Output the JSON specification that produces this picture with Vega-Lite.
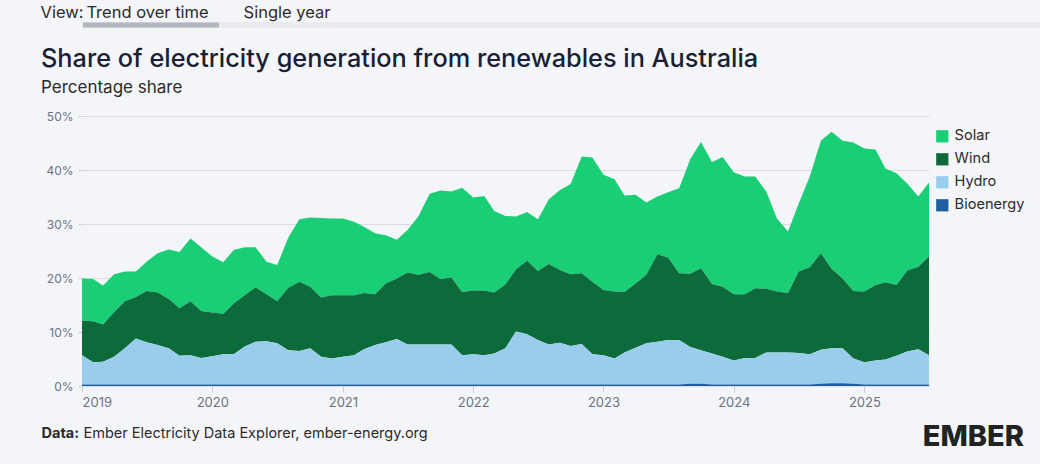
{
  "$schema": "https://vega.github.io/schema/vega-lite/v6.json",
  "background": "#f4f5f9",
  "padding": {"left": 40, "top": 4, "right": 0, "bottom": 0},
  "config": {
    "font": "Inter",
    "view": {"stroke": null}
  },
  "spacing": 18,
  "resolve": {"scale": {"color": "independent"}, "legend": {"color": "independent"}},
  "vconcat": [
    {
      "width": 958,
      "height": 6,
      "view": {"fill": "#e8eaf0", "stroke": null},
      "resolve": {"scale": {"x": "independent"}},
      "data": {"values": [{"tab": "View:"}, {"tab": "Trend over time"}, {"tab": "Single year"}]},
      "layer": [
        {
          "transform": [{"filter": "datum.tab === 'Trend over time'"}],
          "mark": {"type": "tick", "orient": "horizontal", "size": 136, "thickness": 5, "color": "#9ca0a8", "xOffset": 69},
          "encoding": {
            "x": {"field": "tab", "type": "nominal", "scale": {"type": "point", "domain": ["Trend over time", "Single year"], "range": [0, 139.5], "padding": 0}, "axis": null}
          }
        },
        {
          "transform": [{"filter": "datum.tab === 'View:'"}],
          "mark": {"type": "text", "fontSize": 16.5, "color": "#2b2b2b", "baseline": "alphabetic", "dy": -7.2, "xOffset": -20},
          "encoding": {
            "x": {"field": "tab", "type": "nominal", "scale": {"type": "point", "domain": ["View:"], "range": [0, 1], "padding": 0, "align": 0}, "axis": null},
            "text": {"field": "tab"}
          }
        },
        {
          "transform": [{"filter": "datum.tab !== 'View:'"}],
          "mark": {"type": "text", "fontSize": 16.5, "color": "#2b2b2b", "baseline": "alphabetic", "dy": -7.2, "xOffset": 65.5},
          "encoding": {
            "x": {"field": "tab", "type": "nominal", "scale": {"type": "point", "domain": ["Trend over time", "Single year"], "range": [0, 139.5], "padding": 0}, "axis": null},
            "text": {"field": "tab"},
            "fontWeight": {"condition": {"test": "datum.tab === 'Trend over time'", "value": "bold"}, "value": "normal"}
          }
        }
      ]
    },
    {
      "width": 847,
      "height": 270,
      "title": {
        "text": "Share of electricity generation from renewables in Australia",
        "subtitle": "Percentage share",
        "anchor": "start",
        "fontSize": 25.3,
        "fontWeight": 500,
        "color": "#1b1f33",
        "subtitleFontSize": 17,
        "subtitleColor": "#2b2b2b",
        "subtitlePadding": 8,
        "offset": 14
      },
      "data": {"values": [
        {"m":"2019-01","s":"Solar","v":7.8},{"m":"2019-01","s":"Wind","v":6.4},{"m":"2019-01","s":"Hydro","v":5.4},{"m":"2019-01","s":"Bioenergy","v":0.3},
        {"m":"2019-02","s":"Solar","v":7.8},{"m":"2019-02","s":"Wind","v":7.6},{"m":"2019-02","s":"Hydro","v":4.1},{"m":"2019-02","s":"Bioenergy","v":0.3},
        {"m":"2019-03","s":"Solar","v":7.2},{"m":"2019-03","s":"Wind","v":6.9},{"m":"2019-03","s":"Hydro","v":4.2},{"m":"2019-03","s":"Bioenergy","v":0.3},
        {"m":"2019-04","s":"Solar","v":7.0},{"m":"2019-04","s":"Wind","v":8.3},{"m":"2019-04","s":"Hydro","v":5.1},{"m":"2019-04","s":"Bioenergy","v":0.3},
        {"m":"2019-05","s":"Solar","v":5.5},{"m":"2019-05","s":"Wind","v":8.7},{"m":"2019-05","s":"Hydro","v":6.7},{"m":"2019-05","s":"Bioenergy","v":0.3},
        {"m":"2019-06","s":"Solar","v":4.7},{"m":"2019-06","s":"Wind","v":7.7},{"m":"2019-06","s":"Hydro","v":8.5},{"m":"2019-06","s":"Bioenergy","v":0.3},
        {"m":"2019-07","s":"Solar","v":5.4},{"m":"2019-07","s":"Wind","v":9.5},{"m":"2019-07","s":"Hydro","v":7.8},{"m":"2019-07","s":"Bioenergy","v":0.3},
        {"m":"2019-08","s":"Solar","v":7.3},{"m":"2019-08","s":"Wind","v":9.7},{"m":"2019-08","s":"Hydro","v":7.3},{"m":"2019-08","s":"Bioenergy","v":0.3},
        {"m":"2019-09","s":"Solar","v":9.2},{"m":"2019-09","s":"Wind","v":9.1},{"m":"2019-09","s":"Hydro","v":6.7},{"m":"2019-09","s":"Bioenergy","v":0.3},
        {"m":"2019-10","s":"Solar","v":10.4},{"m":"2019-10","s":"Wind","v":8.8},{"m":"2019-10","s":"Hydro","v":5.3},{"m":"2019-10","s":"Bioenergy","v":0.3},
        {"m":"2019-11","s":"Solar","v":11.6},{"m":"2019-11","s":"Wind","v":10.0},{"m":"2019-11","s":"Hydro","v":5.4},{"m":"2019-11","s":"Bioenergy","v":0.3},
        {"m":"2019-12","s":"Solar","v":11.8},{"m":"2019-12","s":"Wind","v":8.7},{"m":"2019-12","s":"Hydro","v":4.9},{"m":"2019-12","s":"Bioenergy","v":0.3},
        {"m":"2020-01","s":"Solar","v":10.4},{"m":"2020-01","s":"Wind","v":8.1},{"m":"2020-01","s":"Hydro","v":5.2},{"m":"2020-01","s":"Bioenergy","v":0.3},
        {"m":"2020-02","s":"Solar","v":9.5},{"m":"2020-02","s":"Wind","v":7.5},{"m":"2020-02","s":"Hydro","v":5.6},{"m":"2020-02","s":"Bioenergy","v":0.3},
        {"m":"2020-03","s":"Solar","v":9.9},{"m":"2020-03","s":"Wind","v":9.4},{"m":"2020-03","s":"Hydro","v":5.6},{"m":"2020-03","s":"Bioenergy","v":0.3},
        {"m":"2020-04","s":"Solar","v":8.9},{"m":"2020-04","s":"Wind","v":9.5},{"m":"2020-04","s":"Hydro","v":7.0},{"m":"2020-04","s":"Bioenergy","v":0.3},
        {"m":"2020-05","s":"Solar","v":7.4},{"m":"2020-05","s":"Wind","v":10.1},{"m":"2020-05","s":"Hydro","v":7.9},{"m":"2020-05","s":"Bioenergy","v":0.3},
        {"m":"2020-06","s":"Solar","v":6.0},{"m":"2020-06","s":"Wind","v":8.7},{"m":"2020-06","s":"Hydro","v":8.0},{"m":"2020-06","s":"Bioenergy","v":0.3},
        {"m":"2020-07","s":"Solar","v":6.7},{"m":"2020-07","s":"Wind","v":7.8},{"m":"2020-07","s":"Hydro","v":7.6},{"m":"2020-07","s":"Bioenergy","v":0.3},
        {"m":"2020-08","s":"Solar","v":9.3},{"m":"2020-08","s":"Wind","v":11.6},{"m":"2020-08","s":"Hydro","v":6.3},{"m":"2020-08","s":"Bioenergy","v":0.3},
        {"m":"2020-09","s":"Solar","v":11.6},{"m":"2020-09","s":"Wind","v":12.8},{"m":"2020-09","s":"Hydro","v":6.2},{"m":"2020-09","s":"Bioenergy","v":0.3},
        {"m":"2020-10","s":"Solar","v":12.8},{"m":"2020-10","s":"Wind","v":11.4},{"m":"2020-10","s":"Hydro","v":6.7},{"m":"2020-10","s":"Bioenergy","v":0.3},
        {"m":"2020-11","s":"Solar","v":14.7},{"m":"2020-11","s":"Wind","v":11.0},{"m":"2020-11","s":"Hydro","v":5.1},{"m":"2020-11","s":"Bioenergy","v":0.3},
        {"m":"2020-12","s":"Solar","v":14.2},{"m":"2020-12","s":"Wind","v":11.7},{"m":"2020-12","s":"Hydro","v":4.8},{"m":"2020-12","s":"Bioenergy","v":0.3},
        {"m":"2021-01","s":"Solar","v":14.2},{"m":"2021-01","s":"Wind","v":11.4},{"m":"2021-01","s":"Hydro","v":5.1},{"m":"2021-01","s":"Bioenergy","v":0.3},
        {"m":"2021-02","s":"Solar","v":13.6},{"m":"2021-02","s":"Wind","v":11.1},{"m":"2021-02","s":"Hydro","v":5.4},{"m":"2021-02","s":"Bioenergy","v":0.3},
        {"m":"2021-03","s":"Solar","v":12.3},{"m":"2021-03","s":"Wind","v":10.4},{"m":"2021-03","s":"Hydro","v":6.5},{"m":"2021-03","s":"Bioenergy","v":0.3},
        {"m":"2021-04","s":"Solar","v":11.3},{"m":"2021-04","s":"Wind","v":9.4},{"m":"2021-04","s":"Hydro","v":7.3},{"m":"2021-04","s":"Bioenergy","v":0.3},
        {"m":"2021-05","s":"Solar","v":8.9},{"m":"2021-05","s":"Wind","v":10.9},{"m":"2021-05","s":"Hydro","v":7.8},{"m":"2021-05","s":"Bioenergy","v":0.3},
        {"m":"2021-06","s":"Solar","v":7.2},{"m":"2021-06","s":"Wind","v":11.2},{"m":"2021-06","s":"Hydro","v":8.4},{"m":"2021-06","s":"Bioenergy","v":0.3},
        {"m":"2021-07","s":"Solar","v":7.9},{"m":"2021-07","s":"Wind","v":13.3},{"m":"2021-07","s":"Hydro","v":7.4},{"m":"2021-07","s":"Bioenergy","v":0.3},
        {"m":"2021-08","s":"Solar","v":10.9},{"m":"2021-08","s":"Wind","v":12.9},{"m":"2021-08","s":"Hydro","v":7.4},{"m":"2021-08","s":"Bioenergy","v":0.3},
        {"m":"2021-09","s":"Solar","v":14.5},{"m":"2021-09","s":"Wind","v":13.4},{"m":"2021-09","s":"Hydro","v":7.4},{"m":"2021-09","s":"Bioenergy","v":0.3},
        {"m":"2021-10","s":"Solar","v":16.4},{"m":"2021-10","s":"Wind","v":12.1},{"m":"2021-10","s":"Hydro","v":7.4},{"m":"2021-10","s":"Bioenergy","v":0.3},
        {"m":"2021-11","s":"Solar","v":15.9},{"m":"2021-11","s":"Wind","v":12.4},{"m":"2021-11","s":"Hydro","v":7.4},{"m":"2021-11","s":"Bioenergy","v":0.3},
        {"m":"2021-12","s":"Solar","v":19.3},{"m":"2021-12","s":"Wind","v":11.7},{"m":"2021-12","s":"Hydro","v":5.4},{"m":"2021-12","s":"Bioenergy","v":0.3},
        {"m":"2022-01","s":"Solar","v":17.2},{"m":"2022-01","s":"Wind","v":11.8},{"m":"2022-01","s":"Hydro","v":5.6},{"m":"2022-01","s":"Bioenergy","v":0.3},
        {"m":"2022-02","s":"Solar","v":17.5},{"m":"2022-02","s":"Wind","v":12.0},{"m":"2022-02","s":"Hydro","v":5.4},{"m":"2022-02","s":"Bioenergy","v":0.3},
        {"m":"2022-03","s":"Solar","v":15.1},{"m":"2022-03","s":"Wind","v":11.3},{"m":"2022-03","s":"Hydro","v":5.7},{"m":"2022-03","s":"Bioenergy","v":0.3},
        {"m":"2022-04","s":"Solar","v":12.7},{"m":"2022-04","s":"Wind","v":11.8},{"m":"2022-04","s":"Hydro","v":6.7},{"m":"2022-04","s":"Bioenergy","v":0.3},
        {"m":"2022-05","s":"Solar","v":9.8},{"m":"2022-05","s":"Wind","v":11.5},{"m":"2022-05","s":"Hydro","v":9.8},{"m":"2022-05","s":"Bioenergy","v":0.3},
        {"m":"2022-06","s":"Solar","v":9.0},{"m":"2022-06","s":"Wind","v":13.6},{"m":"2022-06","s":"Hydro","v":9.3},{"m":"2022-06","s":"Bioenergy","v":0.3},
        {"m":"2022-07","s":"Solar","v":9.6},{"m":"2022-07","s":"Wind","v":12.8},{"m":"2022-07","s":"Hydro","v":8.2},{"m":"2022-07","s":"Bioenergy","v":0.3},
        {"m":"2022-08","s":"Solar","v":12.0},{"m":"2022-08","s":"Wind","v":14.9},{"m":"2022-08","s":"Hydro","v":7.4},{"m":"2022-08","s":"Bioenergy","v":0.3},
        {"m":"2022-09","s":"Solar","v":14.8},{"m":"2022-09","s":"Wind","v":13.5},{"m":"2022-09","s":"Hydro","v":7.7},{"m":"2022-09","s":"Bioenergy","v":0.3},
        {"m":"2022-10","s":"Solar","v":16.7},{"m":"2022-10","s":"Wind","v":13.3},{"m":"2022-10","s":"Hydro","v":7.1},{"m":"2022-10","s":"Bioenergy","v":0.3},
        {"m":"2022-11","s":"Solar","v":21.6},{"m":"2022-11","s":"Wind","v":13.1},{"m":"2022-11","s":"Hydro","v":7.5},{"m":"2022-11","s":"Bioenergy","v":0.3},
        {"m":"2022-12","s":"Solar","v":23.0},{"m":"2022-12","s":"Wind","v":13.4},{"m":"2022-12","s":"Hydro","v":5.6},{"m":"2022-12","s":"Bioenergy","v":0.3},
        {"m":"2023-01","s":"Solar","v":21.3},{"m":"2023-01","s":"Wind","v":12.1},{"m":"2023-01","s":"Hydro","v":5.4},{"m":"2023-01","s":"Bioenergy","v":0.3},
        {"m":"2023-02","s":"Solar","v":20.8},{"m":"2023-02","s":"Wind","v":12.4},{"m":"2023-02","s":"Hydro","v":4.8},{"m":"2023-02","s":"Bioenergy","v":0.3},
        {"m":"2023-03","s":"Solar","v":17.9},{"m":"2023-03","s":"Wind","v":11.2},{"m":"2023-03","s":"Hydro","v":5.9},{"m":"2023-03","s":"Bioenergy","v":0.3},
        {"m":"2023-04","s":"Solar","v":16.4},{"m":"2023-04","s":"Wind","v":11.9},{"m":"2023-04","s":"Hydro","v":6.8},{"m":"2023-04","s":"Bioenergy","v":0.3},
        {"m":"2023-05","s":"Solar","v":13.4},{"m":"2023-05","s":"Wind","v":12.7},{"m":"2023-05","s":"Hydro","v":7.6},{"m":"2023-05","s":"Bioenergy","v":0.3},
        {"m":"2023-06","s":"Solar","v":10.7},{"m":"2023-06","s":"Wind","v":16.2},{"m":"2023-06","s":"Hydro","v":7.9},{"m":"2023-06","s":"Bioenergy","v":0.3},
        {"m":"2023-07","s":"Solar","v":12.1},{"m":"2023-07","s":"Wind","v":15.3},{"m":"2023-07","s":"Hydro","v":8.2},{"m":"2023-07","s":"Bioenergy","v":0.3},
        {"m":"2023-08","s":"Solar","v":15.7},{"m":"2023-08","s":"Wind","v":12.4},{"m":"2023-08","s":"Hydro","v":8.2},{"m":"2023-08","s":"Bioenergy","v":0.3},
        {"m":"2023-09","s":"Solar","v":21.2},{"m":"2023-09","s":"Wind","v":13.6},{"m":"2023-09","s":"Hydro","v":6.8},{"m":"2023-09","s":"Bioenergy","v":0.4},
        {"m":"2023-10","s":"Solar","v":23.4},{"m":"2023-10","s":"Wind","v":15.2},{"m":"2023-10","s":"Hydro","v":6.2},{"m":"2023-10","s":"Bioenergy","v":0.4},
        {"m":"2023-11","s":"Solar","v":22.6},{"m":"2023-11","s":"Wind","v":12.9},{"m":"2023-11","s":"Hydro","v":5.7},{"m":"2023-11","s":"Bioenergy","v":0.3},
        {"m":"2023-12","s":"Solar","v":24.0},{"m":"2023-12","s":"Wind","v":13.0},{"m":"2023-12","s":"Hydro","v":5.1},{"m":"2023-12","s":"Bioenergy","v":0.3},
        {"m":"2024-01","s":"Solar","v":22.6},{"m":"2024-01","s":"Wind","v":12.3},{"m":"2024-01","s":"Hydro","v":4.4},{"m":"2024-01","s":"Bioenergy","v":0.3},
        {"m":"2024-02","s":"Solar","v":21.8},{"m":"2024-02","s":"Wind","v":11.8},{"m":"2024-02","s":"Hydro","v":4.9},{"m":"2024-02","s":"Bioenergy","v":0.3},
        {"m":"2024-03","s":"Solar","v":20.7},{"m":"2024-03","s":"Wind","v":12.9},{"m":"2024-03","s":"Hydro","v":4.9},{"m":"2024-03","s":"Bioenergy","v":0.3},
        {"m":"2024-04","s":"Solar","v":18.0},{"m":"2024-04","s":"Wind","v":11.8},{"m":"2024-04","s":"Hydro","v":5.9},{"m":"2024-04","s":"Bioenergy","v":0.3},
        {"m":"2024-05","s":"Solar","v":13.5},{"m":"2024-05","s":"Wind","v":11.3},{"m":"2024-05","s":"Hydro","v":5.9},{"m":"2024-05","s":"Bioenergy","v":0.3},
        {"m":"2024-06","s":"Solar","v":11.4},{"m":"2024-06","s":"Wind","v":11.0},{"m":"2024-06","s":"Hydro","v":5.9},{"m":"2024-06","s":"Bioenergy","v":0.3},
        {"m":"2024-07","s":"Solar","v":12.6},{"m":"2024-07","s":"Wind","v":15.1},{"m":"2024-07","s":"Hydro","v":5.8},{"m":"2024-07","s":"Bioenergy","v":0.3},
        {"m":"2024-08","s":"Solar","v":16.8},{"m":"2024-08","s":"Wind","v":16.1},{"m":"2024-08","s":"Hydro","v":5.6},{"m":"2024-08","s":"Bioenergy","v":0.3},
        {"m":"2024-09","s":"Solar","v":20.8},{"m":"2024-09","s":"Wind","v":17.9},{"m":"2024-09","s":"Hydro","v":6.3},{"m":"2024-09","s":"Bioenergy","v":0.4},
        {"m":"2024-10","s":"Solar","v":25.4},{"m":"2024-10","s":"Wind","v":14.7},{"m":"2024-10","s":"Hydro","v":6.5},{"m":"2024-10","s":"Bioenergy","v":0.5},
        {"m":"2024-11","s":"Solar","v":25.5},{"m":"2024-11","s":"Wind","v":12.9},{"m":"2024-11","s":"Hydro","v":6.5},{"m":"2024-11","s":"Bioenergy","v":0.5},
        {"m":"2024-12","s":"Solar","v":27.5},{"m":"2024-12","s":"Wind","v":12.5},{"m":"2024-12","s":"Hydro","v":4.7},{"m":"2024-12","s":"Bioenergy","v":0.4},
        {"m":"2025-01","s":"Solar","v":26.5},{"m":"2025-01","s":"Wind","v":13.1},{"m":"2025-01","s":"Hydro","v":4.1},{"m":"2025-01","s":"Bioenergy","v":0.3},
        {"m":"2025-02","s":"Solar","v":25.1},{"m":"2025-02","s":"Wind","v":14.0},{"m":"2025-02","s":"Hydro","v":4.4},{"m":"2025-02","s":"Bioenergy","v":0.3},
        {"m":"2025-03","s":"Solar","v":21.1},{"m":"2025-03","s":"Wind","v":14.3},{"m":"2025-03","s":"Hydro","v":4.6},{"m":"2025-03","s":"Bioenergy","v":0.3},
        {"m":"2025-04","s":"Solar","v":20.7},{"m":"2025-04","s":"Wind","v":13.1},{"m":"2025-04","s":"Hydro","v":5.3},{"m":"2025-04","s":"Bioenergy","v":0.3},
        {"m":"2025-05","s":"Solar","v":16.1},{"m":"2025-05","s":"Wind","v":15.0},{"m":"2025-05","s":"Hydro","v":6.1},{"m":"2025-05","s":"Bioenergy","v":0.3},
        {"m":"2025-06","s":"Solar","v":13.0},{"m":"2025-06","s":"Wind","v":15.3},{"m":"2025-06","s":"Hydro","v":6.5},{"m":"2025-06","s":"Bioenergy","v":0.3},
        {"m":"2025-07","s":"Solar","v":13.7},{"m":"2025-07","s":"Wind","v":18.3},{"m":"2025-07","s":"Hydro","v":5.4},{"m":"2025-07","s":"Bioenergy","v":0.3}
      ]},
      "transform": [
        {"lookup": "s", "from": {"data": {"values": [{"s": "Bioenergy", "k": 1}, {"s": "Hydro", "k": 2}, {"s": "Wind", "k": 3}, {"s": "Solar", "k": 4}]}, "key": "s", "fields": ["k"]}}
      ],
      "mark": {"type": "area", "interpolate": "linear"},
      "encoding": {
        "x": {
          "field": "m",
          "type": "temporal",
          "scale": {"type": "utc", "nice": false},
          "axis": {
            "format": "%Y",
            "tickCount": {"interval": "year", "step": 1},
            "labelFlush": true,
            "labelFontSize": 13,
            "labelColor": "#6b7280",
            "labelPadding": 4,
            "tickColor": "#c9ccd4",
            "tickSize": 6,
            "domain": false,
            "grid": false,
            "title": "Ember Electricity Data Explorer, ember-energy.org",
            "titleFontSize": 14.5,
            "titleFontWeight": "normal",
            "titleColor": "#2b2b2b",
            "titleAnchor": "start",
            "titleAlign": "left",
            "titleBaseline": "alphabetic",
            "titleX": 1,
            "titleY": 51
          }
        },
        "y": {
          "field": "v",
          "type": "quantitative",
          "stack": "zero",
          "scale": {"domain": [0, 50], "nice": false},
          "axis": {
            "values": [0, 10, 20, 30, 40, 50],
            "labelExpr": "datum.value + '%'",
            "labelFontSize": 12,
            "labelColor": "#6b7280",
            "labelPadding": 5,
            "tickSize": 4,
            "tickColor": "#c9ccd4",
            "domain": false,
            "gridColor": "#d8dbe4",
            "title": "Data:",
            "titleAngle": 0,
            "titleFontSize": 14.5,
            "titleFontWeight": "bold",
            "titleColor": "#2b2b2b",
            "titleAlign": "left",
            "titleBaseline": "alphabetic",
            "titleX": -41,
            "titleY": 321
          }
        },
        "order": {"field": "k", "type": "quantitative", "sort": "ascending"},
        "color": {
          "field": "s",
          "type": "nominal",
          "sort": ["Solar", "Wind", "Hydro", "Bioenergy"],
          "scale": {"domain": ["Solar", "Wind", "Hydro", "Bioenergy"], "range": ["#19ce74", "#0d6b3b", "#9accec", "#1f5ea0"]},
          "legend": {
            "title": "EMBER",
            "titleOrient": "bottom",
            "titleAnchor": "end",
            "titleAlign": "right",
            "titleFontSize": 29,
            "titleFontWeight": 800,
            "titleColor": "#222222",
            "titlePadding": 211,
            "symbolType": "square",
            "symbolSize": 150,
            "symbolOpacity": 1,
            "labelFontSize": 14.6,
            "labelColor": "#2b2b2b",
            "labelOffset": 5,
            "rowPadding": 8,
            "offset": -19,
            "padding": 13
          }
        }
      }
    }
  ]
}
